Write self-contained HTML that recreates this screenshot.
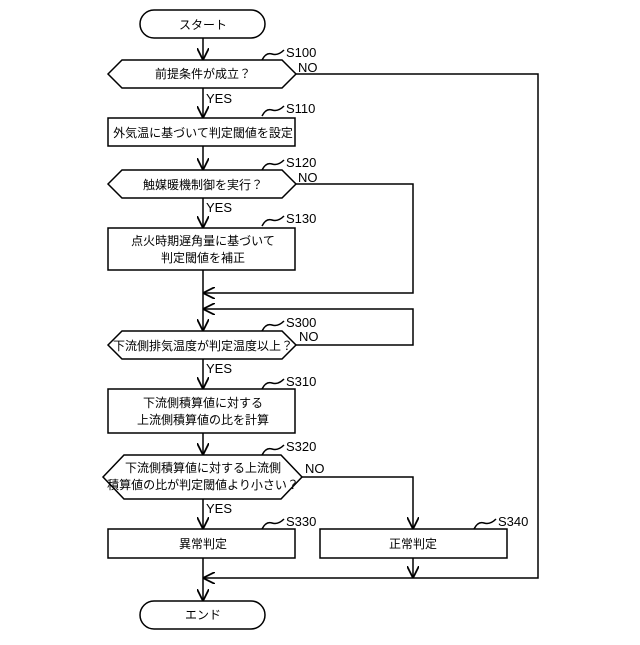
<!DOCTYPE html>
<html><head><meta charset="utf-8"><style>body{margin:0;background:#fff}</style></head><body>
<svg width="640" height="640" viewBox="0 0 640 640" xmlns="http://www.w3.org/2000/svg" font-family="Liberation Sans, Noto Sans CJK JP, sans-serif">
<defs><marker id="a" viewBox="0 0 10 10" refX="10" refY="5" markerWidth="8" markerHeight="8" orient="auto"><path d="M0,0 L10,5 L0,10" fill="none" stroke="#000" stroke-width="1.5"/></marker></defs>
<g fill="none" stroke="#000" stroke-width="1.5">
<rect x="140" y="10" width="125" height="28" rx="14"/>
<rect x="140" y="601" width="125" height="28" rx="14"/>
<polygon points="108,74 122,60 282,60 296,74 282,88 122,88"/>
<rect x="108" y="118" width="187" height="28"/>
<polygon points="108,184 122,170 282,170 296,184 282,198 122,198"/>
<rect x="108" y="228" width="187" height="42"/>
<polygon points="108,345 122,331 282,331 296,345 282,359 122,359"/>
<rect x="108" y="389" width="187" height="44"/>
<polygon points="103,477 124,455 281,455 302,477 281,499 124,499"/>
<rect x="108" y="529" width="187" height="29"/>
<rect x="320" y="529" width="187" height="29"/>
<line x1="203" y1="38" x2="203" y2="60" marker-end="url(#a)"/>
<line x1="203" y1="88" x2="203" y2="118" marker-end="url(#a)"/>
<line x1="203" y1="146" x2="203" y2="170" marker-end="url(#a)"/>
<line x1="203" y1="198" x2="203" y2="228" marker-end="url(#a)"/>
<line x1="203" y1="270" x2="203" y2="331" marker-end="url(#a)"/>
<line x1="203" y1="359" x2="203" y2="389" marker-end="url(#a)"/>
<line x1="203" y1="433" x2="203" y2="455" marker-end="url(#a)"/>
<line x1="203" y1="499" x2="203" y2="529" marker-end="url(#a)"/>
<line x1="203" y1="558" x2="203" y2="601" marker-end="url(#a)"/>
<polyline points="296,74 538,74 538,578 203,578" marker-end="url(#a)"/>
<polyline points="296,184 413,184 413,293 203,293" marker-end="url(#a)"/>
<polyline points="296,345 413,345 413,309 203,309" marker-end="url(#a)"/>
<polyline points="302,477 413,477 413,529" marker-end="url(#a)"/>
<line x1="413" y1="558" x2="413" y2="578" marker-end="url(#a)"/>
<path d="M262,60 q4,-8 10,-6 t12,-4"/>
<path d="M262,116 q4,-8 10,-6 t12,-4"/>
<path d="M262,170 q4,-8 10,-6 t12,-4"/>
<path d="M262,226 q4,-8 10,-6 t12,-4"/>
<path d="M262,331 q4,-8 10,-6 t12,-4"/>
<path d="M262,389 q4,-8 10,-6 t12,-4"/>
<path d="M262,455 q4,-8 10,-6 t12,-4"/>
<path d="M262,529 q4,-8 10,-6 t12,-4"/>
<path d="M474,529 q4,-8 10,-6 t12,-4"/>
</g>
<g font-size="12" text-anchor="middle" fill="#000">
<text x="203" y="29">スタート</text>
<text x="203" y="78">前提条件が成立？</text>
<text x="203" y="137">外気温に基づいて判定閾値を設定</text>
<text x="203" y="189">触媒暖機制御を実行？</text>
<text x="203" y="245">点火時期遅角量に基づいて</text>
<text x="203" y="262">判定閾値を補正</text>
<text x="203" y="350">下流側排気温度が判定温度以上？</text>
<text x="203" y="407">下流側積算値に対する</text>
<text x="203" y="424">上流側積算値の比を計算</text>
<text x="203" y="472">下流側積算値に対する上流側</text>
<text x="203" y="489">積算値の比が判定閾値より小さい？</text>
<text x="203" y="548">異常判定</text>
<text x="413" y="548">正常判定</text>
<text x="203" y="619">エンド</text>
</g>
<g font-size="13" fill="#000">
<text x="286" y="57">S100</text><text x="298" y="72">NO</text><text x="206" y="103">YES</text>
<text x="286" y="113">S110</text>
<text x="286" y="167">S120</text><text x="298" y="182">NO</text><text x="206" y="212">YES</text>
<text x="286" y="223">S130</text>
<text x="286" y="327">S300</text><text x="299" y="341">NO</text><text x="206" y="373">YES</text>
<text x="286" y="386">S310</text>
<text x="286" y="451">S320</text><text x="305" y="473">NO</text><text x="206" y="513">YES</text>
<text x="286" y="526">S330</text>
<text x="498" y="526">S340</text>
</g>
</svg>
</body></html>
